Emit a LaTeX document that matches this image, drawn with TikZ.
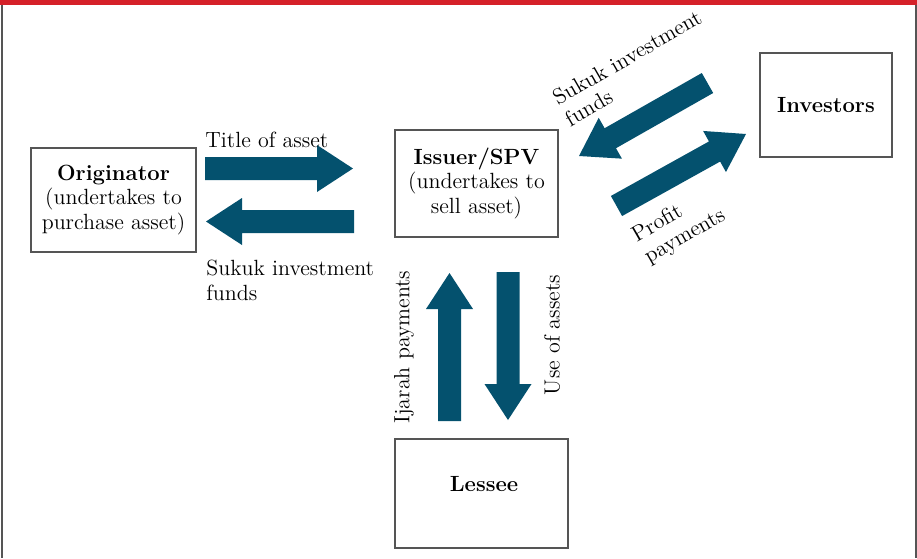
\documentclass[tikz,border=0pt]{standalone}
\usepackage{tikz}
\usetikzlibrary{calc}
\definecolor{flowblue}{RGB}{4,81,110}
\definecolor{barred}{RGB}{213,33,41}
\definecolor{edgegray}{RGB}{85,85,85}
\tikzset{
  party/.style = {draw=edgegray, line width=0.6pt, align=center, inner sep=2pt},
  flowlabel/.style = {inner sep=0pt},
  flow/.style = {fill=flowblue}
}
\newcommand{\fatarrow}[2]{%
  \coordinate (hb) at ($(#2)!18pt!(#1)$);
  \fill[flow] ($(#1)!5.75pt!90:(#2)$) -- ($(hb)!5.75pt!90:(#2)$) -- ($(hb)!11.75pt!90:(#2)$) -- (#2)
    -- ($(hb)!11.75pt!-90:(#2)$) -- ($(hb)!5.75pt!-90:(#2)$) -- ($(#1)!5.75pt!-90:(#2)$) -- cycle;}

\begin{document}
\begin{tikzpicture}[x=0.5pt, y=-0.5pt, font=\fontsize{11}{12.25}\selectfont]
\useasboundingbox (0, 0) rectangle (917, 558);
\fill[barred] (0, 0) rectangle (917, 5);
\draw[edgegray, line width=1pt] (1.5, 5) -- (1.5, 558);
\draw[edgegray, line width=1pt] (915.5, 5) -- (915.5, 558);

\node[party, minimum width=82.5pt, minimum height=52pt] (orig) at (113.5, 200)
  {\textbf{Originator}\\(undertakes to\\purchase asset)};
\node[party, minimum width=81.5pt, minimum height=53.5pt] (spv) at (476.5, 183.5)
  {\textbf{Issuer/SPV}\\(undertakes to\\sell asset)};
\node[party, minimum width=66pt, minimum height=52pt] (inv) at (826, 105) {\textbf{Investors}};
\node[party, minimum width=86.5pt, minimum height=54.5pt] (lessee) at (481.5, 493.5) {};
\node (lesseetxt) at (484, 484) {\textbf{Lessee}};

\coordinate (title-s) at (205, 168.5);
\coordinate (title-e) at (353, 168.5);
\coordinate (funds-s) at (354, 221.5);
\coordinate (funds-e) at (206, 221.5);
\coordinate (ijarah-s) at (449.5, 421);
\coordinate (ijarah-e) at (449.5, 273);
\coordinate (use-s) at (508, 272);
\coordinate (use-e) at (508, 420);
\coordinate (sukuk-s) at (707.5, 83);
\coordinate (sukuk-e) at (579, 156);
\coordinate (profit-s) at (616.5, 206);
\coordinate (profit-e) at (746, 134);

\fatarrow{title-s}{title-e}
\fatarrow{funds-s}{funds-e}
\fatarrow{ijarah-s}{ijarah-e}
\fatarrow{use-s}{use-e}
\fatarrow{sukuk-s}{sukuk-e}
\fatarrow{profit-s}{profit-e}

\node[flowlabel, anchor=base west] (titlelbl) at (205, 147) {Title of asset};
\node[flowlabel, anchor=north west, align=left] (fundslbl) at (206, 260) {Sukuk investment\\funds};
\node[flowlabel, rotate=90] (ijarahlbl) at (404, 347) {Ijarah payments};
\node[flowlabel, rotate=90] (uselbl) at (552, 335) {Use of assets};
\node[flowlabel, rotate=30, align=left] (sukuklbl) at (633, 68) {Sukuk investment\\funds};
\node[flowlabel, rotate=30, align=left] (profitlbl) at (679, 226) {Profit\\payments};
\end{tikzpicture}
\end{document}
